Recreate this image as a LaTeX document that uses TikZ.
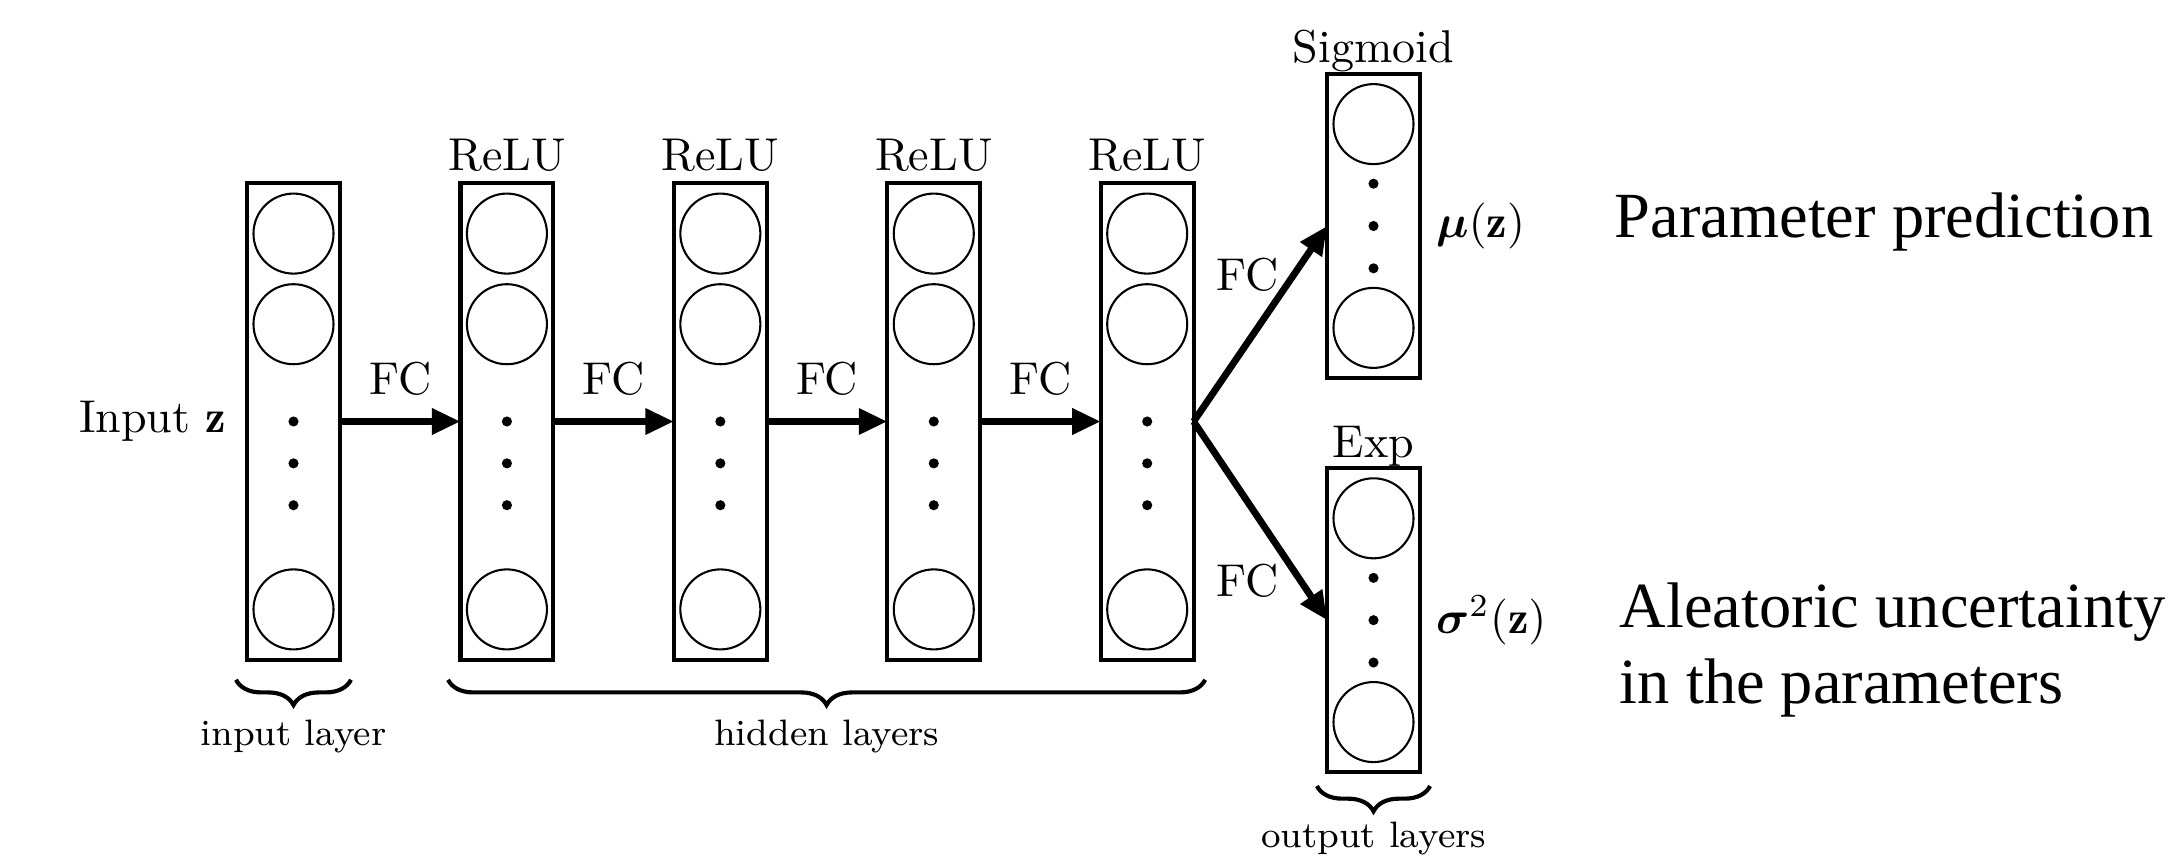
\documentclass[tikz,border=0pt]{standalone}
\usepackage{amsmath}
\usepackage{bm}
\usepackage{fontspec}
\usepackage{tikz}
\usetikzlibrary{arrows.meta,positioning,decorations.pathreplacing}
\newfontfamily\timesfont{Liberation Serif}

\begin{document}
\begin{tikzpicture}[x=0.2174pt, y=0.2174pt,
  node distance=26.2pt,
  layer/.style={draw, line width=0.9pt, minimum width=20.2pt, minimum height=103.7pt, inner sep=0pt, outer sep=0pt},
  outlayer/.style={layer, minimum height=66.1pt},
  neuron/.style={draw, circle, line width=0.45pt, minimum size=17.4pt, inner sep=0pt},
  act/.style={anchor=base},
  fc/.style={-{Triangle[length=6.2pt, width=5.4pt]}, line width=1.5pt},
  brc/.style={decorate, decoration={brace, mirror, amplitude=5.5pt}, line width=0.9pt},
  lbl/.style={font=\footnotesize},
  side/.style={font=\timesfont\fontsize{14}{16.5}\selectfont, inner sep=0pt}]
\useasboundingbox (0,0) rectangle (2179,855);
\node[layer] (in) at (293.5,433.5) {};
\node[layer, right=of in] (h1) {};
\node[layer, right=of h1] (h2) {};
\node[layer, right=of h2] (h3) {};
\node[layer, right=of h3] (h4) {};
\node[outlayer] (sig) at (1373.5,629) {};
\node[outlayer, below=19.6pt of sig] (exp) {};
\foreach \l in {in,h1,h2,h3,h4} {
  \node[neuron] (\l-1) at ([yshift=-11pt]\l.north) {};
  \node[neuron] (\l-2) at ([yshift=-30.7pt]\l.north) {};
  \node[neuron] (\l-n) at ([yshift=11pt]\l.south) {};
  \foreach \d in {0,1,2} \fill ([yshift={-\d*9.1pt}]\l.center) circle (1.1pt);
}
\foreach \l in {sig,exp} {
  \node[neuron] (\l-1) at ([yshift=-10.9pt]\l.north) {};
  \node[neuron] (\l-n) at ([yshift=10.9pt]\l.south) {};
  \foreach \d in {-1,0,1} \fill ([yshift={-\d*9.2pt}]\l.center) circle (1.1pt);
}
\foreach \l in {h1,h2,h3,h4} \node[act] (\l-act) at ([yshift=2.8pt]\l.north) {ReLU};
\node[act] (sig-act) at ([yshift=2.6pt]sig.north) {Sigmoid};
\node[act] (exp-act) at ([yshift=2.4pt]exp.north) {Exp};
\node[left=1pt of in] (inlbl) {Input $\mathbf{z}$};
\node[right=0pt of sig] (mu) {$\bm{\mu}(\mathbf{z})$};
\node[right=0pt of exp] (var) {$\bm{\sigma}^2(\mathbf{z})$};
\foreach \a/\b in {in/h1,h1/h2,h2/h3,h3/h4} \draw[fc] (\a) -- node[above=1.6pt] (fc-\a) {FC} (\b);
\draw[fc] (h4.east) -- node[pos=0.75, anchor=east, inner sep=2.5pt] (fc-sig) {FC} (sig.west);
\draw[fc] (h4.east) -- node[pos=0.8, anchor=east, inner sep=4pt] (fc-exp) {FC} (exp.west);
\draw[brc] ([xshift=-2.4pt, yshift=-4.3pt]in.south west) -- node[lbl, below=5pt] (inbr) {input layer} ([xshift=2.4pt, yshift=-4.3pt]in.south east);
\draw[brc] ([xshift=-2.7pt, yshift=-4.3pt]h1.south west) -- node[lbl, below=5pt] (hidbr) {hidden layers} ([xshift=2.5pt, yshift=-4.3pt]h4.south east);
\draw[brc] ([xshift=-2.2pt, yshift=-3pt]exp.south west) -- node[lbl, below=4pt] (outbr) {output layers} ([xshift=2.2pt, yshift=-3pt]exp.south east);
\node[side, anchor=base west] (pp) at (1614,618) {Parameter prediction};
\node[side, anchor=base west, align=left] (au) at (1619,152) {Aleatoric uncertainty\\in the parameters};
\end{tikzpicture}
\end{document}
